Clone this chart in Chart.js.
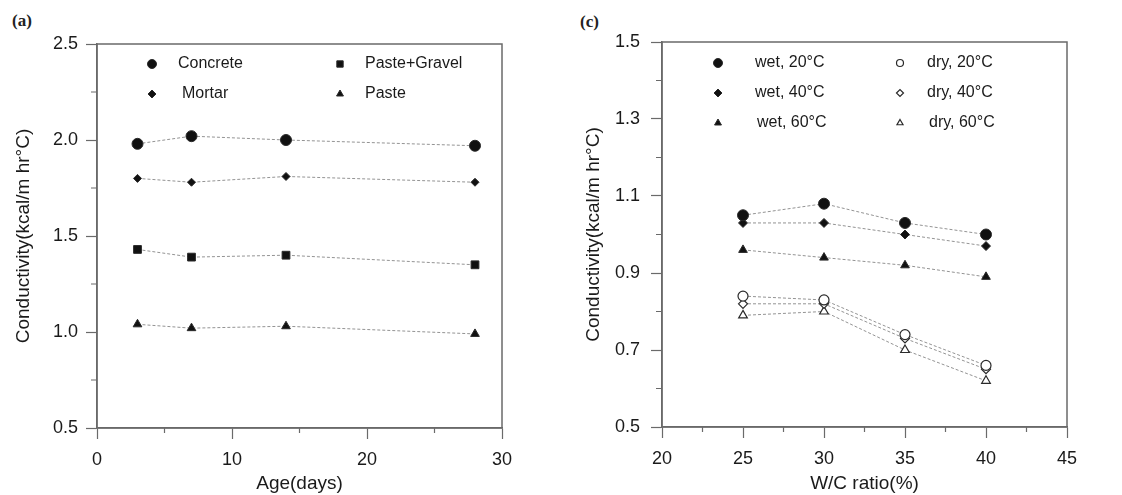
<!DOCTYPE html>
<html>
<head>
<meta charset="utf-8">
<script src="https://cdn.jsdelivr.net/npm/chart.js@4.4.1/dist/chart.umd.min.js"></script>
<style>
  body { margin: 0; background: #fff; width: 1122px; height: 495px; position: relative; overflow: hidden; }
  .panel { position: absolute; top: 0; height: 495px; }
  #pa { left: 0; width: 545px; }
  #pc { left: 560px; width: 562px; }
  .tag { position: absolute; font-family: "Liberation Serif", serif; font-weight: bold; font-size: 17px; color: #222; }
</style>
</head>
<body>
<div class="tag" style="left:12px;top:11px">(a)</div>
<div class="tag" style="left:580px;top:12px">(c)</div>
<div class="panel" id="pa"><canvas id="chartA"></canvas></div>
<div class="panel" id="pc"><canvas id="chartC"></canvas></div>
<script>
//panel (a): conductivity against age
const ageDays = [3, 7, 14, 28];
const concrete = [1.98, 2.02, 2.00, 1.97];
const mortar = [1.80, 1.78, 1.81, 1.78];
const pasteGravel = [1.43, 1.39, 1.40, 1.35];
const paste = [1.04, 1.02, 1.03, 0.99];

//panel (c): conductivity against W/C ratio
const wcRatio = [25, 30, 35, 40];
const wet20 = [1.05, 1.08, 1.03, 1.00];
const wet40 = [1.03, 1.03, 1.00, 0.97];
const wet60 = [0.96, 0.94, 0.92, 0.89];
const dry20 = [0.84, 0.83, 0.74, 0.66];
const dry40 = [0.82, 0.82, 0.73, 0.65];
const dry60 = [0.79, 0.80, 0.70, 0.62];

const FONT = "'Liberation Sans', Arial, sans-serif";
const INK = '#1a1a1a';
const AXIS = '#6a6a6a';

//turn x list + y list into points
const pts = (xs, ys) => xs.map((x, i) => ({ x: x, y: ys[i] }));

function series(label, xs, ys, style, radius, open) {
  return {
    label: label,
    data: pts(xs, ys),
    borderColor: '#939393',
    borderWidth: 1,
    borderDash: [3, 2],
    tension: 0,
    pointStyle: style,
    pointRadius: radius,
    pointBorderWidth: open ? 1.2 : 1,
    pointBorderColor: '#2a2a2a',
    pointBackgroundColor: open ? '#fff' : '#111'
  };
}

//box round the plot area, plus the short minor ticks
const frame = {
  id: 'frame',
  beforeDatasetsDraw(chart) {
    const a = chart.chartArea, ctx = chart.ctx;
    ctx.save();
    ctx.strokeStyle = AXIS;
    ctx.lineWidth = 1.5;
    ctx.strokeRect(a.left, a.top, a.right - a.left, a.bottom - a.top);
    ctx.lineWidth = 1.2;
    const xs = chart.scales.x, ys = chart.scales.y;
    ctx.beginPath();
    xs.ticks.forEach((t, i) => {
      if (i % 2 === 1) {
        const px = xs.getPixelForValue(t.value);
        ctx.moveTo(px, a.bottom);
        ctx.lineTo(px, a.bottom + 5);
      }
    });
    ys.ticks.forEach((t, i) => {
      if (i % 2 === 1) {
        const py = ys.getPixelForValue(t.value);
        ctx.moveTo(a.left, py);
        ctx.lineTo(a.left - 6, py);
      }
    });
    ctx.stroke();
    ctx.restore();
  }
};

//legend drawn inside the plot
const inLegend = {
  id: 'inlegend',
  afterDraw(chart, args, opts) {
    const a = chart.chartArea, ctx = chart.ctx;
    ctx.save();
    opts.items.forEach(it => {
      const ds = chart.data.datasets[it.ds];
      ctx.fillStyle = ds.pointBackgroundColor;
      ctx.strokeStyle = ds.pointBorderColor;
      ctx.lineWidth = ds.pointBorderWidth;
      Chart.helpers.drawPoint(ctx, { pointStyle: ds.pointStyle, radius: it.r, borderWidth: ds.pointBorderWidth, rotation: 0 }, a.left + it.mx, a.top + it.y);
      ctx.fillStyle = INK;
      ctx.font = '16px ' + FONT;
      ctx.textBaseline = 'middle';
      ctx.fillText(ds.label, a.left + it.tx, a.top + it.y);
    });
    ctx.restore();
  }
};

function axis(min, max, step, digits, title, fixed, isX, labelPad, titlePad) {
  return {
    type: 'linear',
    min: min,
    max: max,
    afterFit(scale) {
      if (isX) scale.height = fixed; else scale.width = fixed;
    },
    ticks: {
      stepSize: step,
      color: INK,
      font: { family: FONT, size: 18 },
      padding: labelPad,
      maxRotation: 0,
      autoSkip: false,
      callback: (v, i) => (i % 2 === 0 ? v.toFixed(digits) : '')
    },
    grid: {
      drawOnChartArea: false,
      drawTicks: true,
      tickLength: 11,
      tickColor: c => (c.index % 2 === 0 ? AXIS : 'rgba(0,0,0,0)'),
      tickWidth: 1.2
    },
    border: { display: true, color: AXIS, width: 1.5 },
    title: {
      display: true,
      text: title,
      color: INK,
      font: { family: FONT, size: 19 },
      padding: titlePad
    }
  };
}

function baseOptions(xAxis, yAxis, pad, legendItems) {
  return {
    responsive: false,
    animation: false,
    layout: { padding: pad },
    plugins: {
      legend: { display: false },
      tooltip: { enabled: false },
      inlegend: { items: legendItems }
    },
    scales: { x: xAxis, y: yAxis }
  };
}

const canvasA = document.getElementById('chartA');
canvasA.width = 545; canvasA.height = 495;
new Chart(canvasA, {
  type: 'line',
  data: {
    datasets: [
      series('Concrete', ageDays, concrete, 'circle', 5.5),
      series('Mortar', ageDays, mortar, 'rectRot', 4),
      series('Paste+Gravel', ageDays, pasteGravel, 'rect', 5.5),
      series('Paste', ageDays, paste, 'triangle', 5)
    ]
  },
  options: baseOptions(
    axis(0, 30, 5, 0, 'Age(days)', 67, true, 10, { top: 0, bottom: 0 }),
    axis(0.5, 2.5, 0.25, 1, 'Conductivity(kcal/m hr°C)', 97, false, 8, { top: 12, bottom: 0 }),
    { top: 44, right: 43, left: 0, bottom: 0 },
    [
      { ds: 0, mx: 55, tx: 81, y: 20, r: 4.5 },
      { ds: 1, mx: 55, tx: 85, y: 50, r: 4 },
      { ds: 2, mx: 243, tx: 268, y: 20, r: 4.5 },
      { ds: 3, mx: 243, tx: 268, y: 50, r: 4 }
    ]
  ),
  plugins: [frame, inLegend]
});

const canvasC = document.getElementById('chartC');
canvasC.width = 562; canvasC.height = 495;
new Chart(canvasC, {
  type: 'line',
  data: {
    datasets: [
      series('wet, 20°C', wcRatio, wet20, 'circle', 5.5),
      series('wet, 40°C', wcRatio, wet40, 'rectRot', 4.5),
      series('wet, 60°C', wcRatio, wet60, 'triangle', 5),
      series('dry, 20°C', wcRatio, dry20, 'circle', 5, true),
      series('dry, 40°C', wcRatio, dry40, 'rectRot', 4.5, true),
      series('dry, 60°C', wcRatio, dry60, 'triangle', 5, true)
    ]
  },
  options: baseOptions(
    axis(20, 45, 2.5, 0, 'W/C ratio(%)', 68, true, 10, { top: 0, bottom: 0 }),
    axis(0.5, 1.5, 0.1, 1, 'Conductivity(kcal/m hr°C)', 102, false, 11, { top: 22, bottom: 0 }),
    { top: 42, right: 55, left: 0, bottom: 0 },
    [
      { ds: 0, mx: 56, tx: 93, y: 21, r: 4.5 },
      { ds: 1, mx: 56, tx: 93, y: 51, r: 4 },
      { ds: 2, mx: 56, tx: 95, y: 81, r: 4 },
      { ds: 3, mx: 238, tx: 265, y: 21, r: 3.5 },
      { ds: 4, mx: 238, tx: 265, y: 51, r: 3.5 },
      { ds: 5, mx: 238, tx: 267, y: 81, r: 3.5 }
    ]
  ),
  plugins: [frame, inLegend]
});
</script>
</body>
</html>
